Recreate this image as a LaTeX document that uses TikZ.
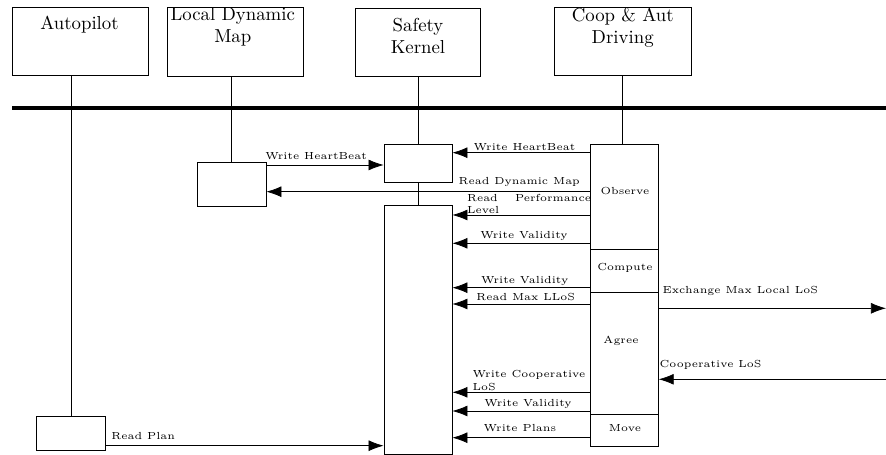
\documentclass[tikz,border=0pt]{standalone}
\usetikzlibrary{arrows.meta}
\tikzset{
  blk/.style 2 args={draw, minimum width=#1*0.532pt, minimum height=#2*0.532pt, inner sep=0pt},
  msg/.style={-{Latex[length=8pt,width=5.8pt]}},
  lbl/.style={font=\fontsize{5.45}{6.7}\selectfont, inner sep=0pt},
  head/.style={anchor=north, align=center, inner sep=0pt}
}
\begin{document}
\begin{tikzpicture}[x=0.532pt, y=-0.532pt]
\useasboundingbox (0,0) rectangle (886,455);
\node[blk={136}{68}] (ap) at (80,41) {};
\node[blk={136}{69}] (ldm) at (235,41.5) {};
\node[blk={125.5}{67.7}] (sk) at (417.8,42.2) {};
\node[blk={137.5}{67.7}] (cad) at (622.8,41.2) {};
\node[anchor=base, inner sep=0pt] (aptxt) at (79.5,29.3) {Autopilot};
\node[head] (ldmtxt) at (232.8,7) {Local Dynamic\\Map};
\node[head] (sktxt) at (418,17.7) {Safety\\Kernel};
\node[head] (cadtxt) at (622.7,7.4) {Coop \& Aut\\Driving};
\coordinate (busw) at (12,108);
\coordinate (buse) at (886,108);
\draw[line width=2pt] (busw) -- (buse);
\node[blk={68.6}{33.6}] (apact) at (71,433.5) {};
\node[blk={69}{44}] (ldmact) at (231.5,184) {};
\node[blk={68}{38}] (skhb) at (418,163) {};
\node[blk={68}{249}] (skmain) at (418,329.5) {};
\node[blk={67.6}{105.3}] (obs) at (624.5,196.7) {};
\node[blk={67.6}{43.4}] (cmp) at (624.5,271) {};
\node[blk={67.6}{122}] (agr) at (624.5,353.7) {};
\node[blk={67.6}{31.3}] (mov) at (624.5,430.3) {};
\node[lbl] (obstxt) at (625,191) {Observe};
\node[lbl] (cmptxt) at (625,268) {Compute};
\node[lbl] (agrtxt) at (621,341) {Agree};
\node[lbl] (movtxt) at (625,427.7) {Move};
\draw (apact.north) -- (apact.north |- ap.south);
\draw (ldmact.north) -- (ldmact.north |- ldm.south);
\draw (skhb.north) -- (skhb.north |- sk.south);
\draw (skhb.south) -- (skmain.north);
\draw (cad.south) -- (cad.south |- obs.north);
\coordinate (peerout) at (886,308.3);
\coordinate (peerin) at (886,379.3);
\draw[msg] (ldmact.east |- 0,165) -- (skhb.west |- 0,165)
  node[lbl, anchor=base west] (hb1) at (265,159.5) {Write HeartBeat};
\draw[msg] (obs.west |- 0,152.7) -- (skhb.east |- 0,152.7)
  node[lbl, anchor=base west] (hb2) at (473.3,151) {Write HeartBeat};
\draw[msg] (obs.west |- 0,191.7) -- (ldmact.east |- 0,191.7)
  node[lbl, anchor=base west] (rdm) at (458.3,185) {Read Dynamic Map};
\draw[msg] (obs.west |- 0,215) -- (skmain.east |- 0,215)
  node[lbl, anchor=north west, align=left, text width=66pt] (rpl) at (466.7,193.7) {Read\hfill Performance\\Level};
\draw[msg] (obs.west |- 0,243.3) -- (skmain.east |- 0,243.3)
  node[lbl, anchor=base west] (wv1) at (480,239) {Write Validity};
\draw[msg] (cmp.west |- 0,287.7) -- (skmain.east |- 0,287.7)
  node[lbl, anchor=base west] (wv2) at (480.7,284) {Write Validity};
\draw[msg] (agr.west |- 0,304) -- (skmain.east |- 0,304)
  node[lbl, anchor=base west] (rml) at (476,301) {Read Max LLoS};
\draw[msg] (agr.east |- peerout) -- (peerout)
  node[lbl, anchor=base west] (exl) at (662.3,293.3) {Exchange Max Local LoS};
\draw[msg] (peerin) -- (agr.east |- peerin)
  node[lbl, anchor=base west] (cls) at (659.3,367.3) {Cooperative LoS};
\draw[msg] (agr.west |- 0,392.3) -- (skmain.east |- 0,392.3)
  node[lbl, anchor=north west, align=left] (wcl) at (472.3,370) {Write Cooperative\\LoS};
\draw[msg] (agr.west |- 0,411) -- (skmain.east |- 0,411)
  node[lbl, anchor=base west] (wv3) at (484,406.7) {Write Validity};
\draw[msg] (mov.west |- 0,437.7) -- (skmain.east |- 0,437.7)
  node[lbl, anchor=base west] (wpl) at (483.3,431.7) {Write Plans};
\draw[msg] (apact.east |- 0,445.7) -- (skmain.west |- 0,445.7)
  node[lbl, anchor=base west] (rpn) at (111,440) {Read Plan};
\end{tikzpicture}
\end{document}
